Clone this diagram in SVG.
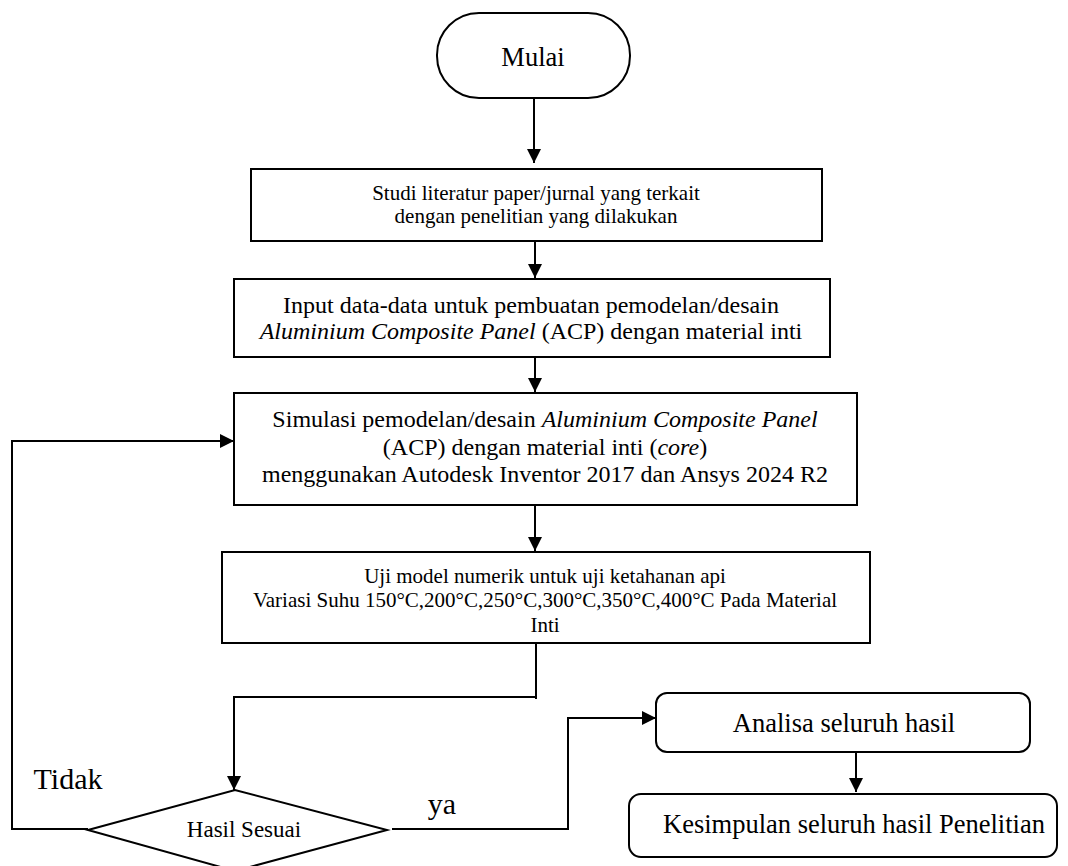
<svg xmlns="http://www.w3.org/2000/svg" width="1068" height="866" viewBox="0 0 1068 866">
<defs>
<marker id="ah" markerWidth="14" markerHeight="14" refX="14" refY="7" orient="auto" markerUnits="userSpaceOnUse">
<path d="M0,0 L14,7 L0,14 Z" fill="#000"/>
</marker>
<style>
.box{fill:#fff;stroke:#000;stroke-width:2}
.ln{fill:none;stroke:#000;stroke-width:2}
text{font-family:"Liberation Serif","Times New Roman",serif;fill:#000;text-anchor:middle}
.s21{font-size:21px}
.s23{font-size:23px}
.s24{font-size:24px}
.s26{font-size:26.5px}
.s30{font-size:30px}
.it{font-style:italic}
</style>
</defs>
<rect width="1068" height="866" fill="#fff"/>
<g id="connectors">
<path class="ln" d="M534,98 L534,163" marker-end="url(#ah)"/>
<path class="ln" d="M535,241 L535,278" marker-end="url(#ah)"/>
<path class="ln" d="M535,357 L535,392" marker-end="url(#ah)"/>
<path class="ln" d="M535,505 L535,551" marker-end="url(#ah)"/>
<path class="ln" d="M536,643 L536,699"/>
<path class="ln" d="M537,697 L234,697 L234,790" marker-end="url(#ah)"/>
<path class="ln" d="M88,829 L12,829 L12,441 L234,441" marker-end="url(#ah)"/>
<path class="ln" d="M392,829 L568,829 L568,718 L656,718" marker-end="url(#ah)"/>
<path class="ln" d="M856,752 L856,792" marker-end="url(#ah)"/>
</g>
<g id="mulai">
<rect class="box" x="437" y="13" width="193" height="85" rx="42" ry="42"/>
<text class="s26" x="533" y="66">Mulai</text>
</g>
<g id="studi">
<rect class="box" x="251" y="169" width="571" height="72"/>
<text class="s21" x="536" y="200">Studi literatur paper/jurnal yang terkait</text>
<text class="s21" x="536" y="223">dengan penelitian yang dilakukan</text>
</g>
<g id="input">
<rect class="box" x="234" y="279" width="596" height="78"/>
<text class="s24" x="531" y="313">Input data-data untuk pembuatan pemodelan/desain</text>
<text class="s24" x="531" y="339"><tspan class="it">Aluminium Composite Panel</tspan> (ACP) dengan material inti</text>
</g>
<g id="simulasi">
<rect class="box" x="234" y="393" width="623" height="112"/>
<text class="s24" x="545" y="427">Simulasi pemodelan/desain <tspan class="it">Aluminium Composite Panel</tspan></text>
<text class="s24" x="545" y="455">(ACP) dengan material inti (<tspan class="it">core</tspan>)</text>
<text class="s24" x="545" y="482">menggunakan Autodesk Inventor 2017 dan Ansys 2024 R2</text>
</g>
<g id="uji">
<rect class="box" x="222" y="552" width="648" height="91"/>
<text class="s21" x="545" y="583">Uji model numerik untuk uji ketahanan api</text>
<text class="s21" x="545" y="607">Variasi Suhu 150°C,200°C,250°C,300°C,350°C,400°C Pada Material</text>
<text class="s21" x="545" y="632">Inti</text>
</g>
<g id="keputusan">
<polygon class="box" points="88,830 235,790 387,830 235,871"/>
<text class="s23" x="244" y="837">Hasil Sesuai</text>
</g>
<g id="label-tidak">
<text class="s30" x="68" y="789">Tidak</text>
</g>
<g id="label-ya">
<text class="s30" x="442" y="814">ya</text>
</g>
<g id="analisa">
<rect class="box" x="656" y="693" width="374" height="59" rx="11" ry="11"/>
<text class="s26" x="844" y="732">Analisa seluruh hasil</text>
</g>
<g id="kesimpulan">
<rect class="box" x="629" y="794" width="428" height="63" rx="12" ry="12"/>
<text class="s26" x="854" y="833">Kesimpulan seluruh hasil Penelitian</text>
</g>
</svg>
